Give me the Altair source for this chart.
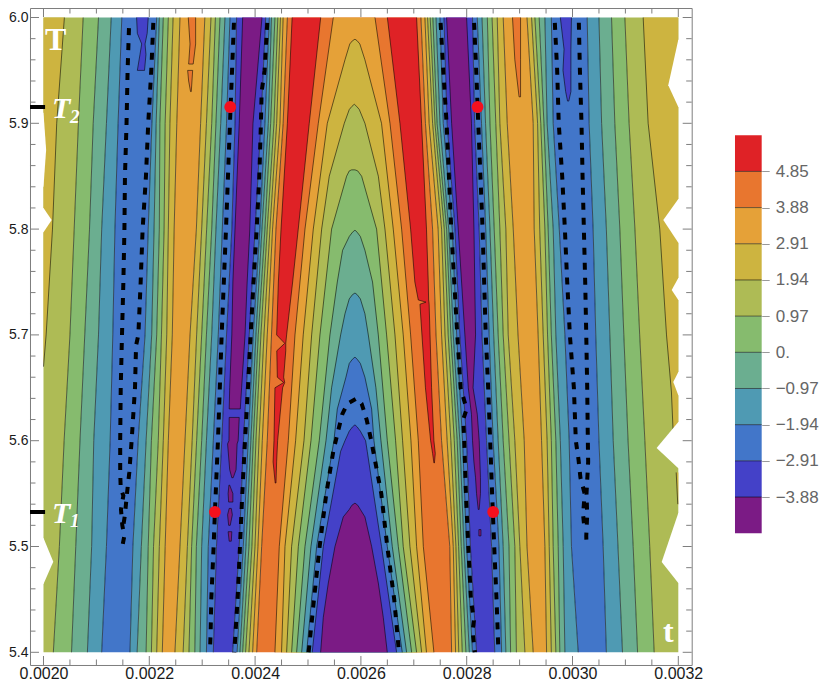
import altair as alt
import pandas as pd

# ---- values; t is in units of 1e-6 ----
ROW_T = [6.0, 5.9, 5.8, 5.7, 5.6, 5.5, 5.4]

EDGE_L = [2000] * 7
L2 = [2075, 2066, 2058, 2050, 2039, 2030, 2018.6]
L3 = [2104, 2094, 2087, 2078, 2069, 2061, 2053]
L4 = [2128, 2119, 2110, 2104, 2095, 2091, 2083]
L5 = [2148, 2141, 2135, 2131, 2126, 2119, 2110]
R5 = [2214, 2205, 2198, 2192, 2179, 2169, 2163.5]
R4 = [2219, 2213, 2209, 2204.5, 2194, 2185, 2177]
R3 = [2226.5, 2220, 2219, 2214, 2204, 2198, 2194]
R2 = [2236, 2230, 2228, 2223, 2217, 2208, 2204]
R1 = [2245, 2239, 2236, 2233, 2226.5, 2219, 2214]
R0 = [2258, 2252, 2247, 2243.5, 2236, 2230, 2224.6]
O1 = [2305, 2297, 2289, 2277, 2267.5, 2258, 2248.5]
A1 = [2316.6, 2308, 2299, 2289.5, 2281, 2272, 2264]
B1 = [2325, 2318, 2308.4, 2299, 2289.5, 2280, 2275]
C1 = [2333.6, 2326, 2318, 2308, 2299, 2289, 2286]
D1 = [2343, 2335, 2326, 2318, 2308, 2299, 2296]
E1 = [2352.5, 2346, 2338, 2330.4, 2321, 2311.5, 2308]
F1 = [2365, 2362, 2356, 2346, 2337, 2327, 2321]
H1 = [2420, 2411, 2400, 2389, 2378, 2370, 2357.5]
I1 = [2427, 2418.6, 2409, 2396.5, 2387, 2377.7, 2366]
J1 = [2431, 2425, 2413, 2401.6, 2392, 2382.7, 2371.4]
K1 = [2437.5, 2429.4, 2418.6, 2406, 2396.6, 2388.4, 2376.4]
M1 = [2443, 2435.7, 2423, 2411, 2401.6, 2394, 2382]
N1 = [2448, 2440.7, 2428, 2416.8, 2407.3, 2399.8, 2388.4]
P1 = [2453, 2447, 2433, 2423, 2413.6, 2405.4, 2395.3]
Q1 = [2461, 2453, 2439.4, 2431, 2423, 2412.4, 2403]
Q2 = [2713.5, 2722, 2735.5, 2742, 2752.5, 2768, 2771.5]
P2 = [2721, 2729, 2746, 2752.5, 2763, 2774.6, 2779]
N2 = [2726, 2735.5, 2752.5, 2759, 2770, 2779.6, 2785]
M2 = [2731, 2740, 2757.6, 2765, 2776.5, 2784.7, 2791.6]
K2 = [2736, 2744, 2762, 2770, 2782, 2789.7, 2798.5]
J2 = [2742, 2749.4, 2766, 2774.6, 2787, 2794.8, 2805]
I2 = [2749.4, 2755.7, 2772.7, 2781, 2792.2, 2799.8, 2811]
H2 = [2757, 2763, 2777.8, 2787, 2799.8, 2807, 2818.7]
H3 = [2811, 2815, 2823.6, 2829, 2837.5, 2847, 2853]
I3 = [2820, 2828, 2836, 2842.5, 2850, 2861, 2866]
J3 = [2829, 2835.6, 2844, 2851, 2859.5, 2869, 2874]
K3 = [2839, 2844, 2852, 2859.5, 2869, 2880, 2883]
M3 = [2848, 2855, 2862.7, 2869, 2880, 2891, 2894]
N3 = [2857.7, 2862.7, 2874, 2878.5, 2891, 2900.5, 2910]
P3 = [2869, 2876.6, 2888, 2897, 2908.7, 2914, 2925.7]
O3 = [2914, 2925.7, 2927.6, 2935, 2941.5, 2947.8, 2951]
A3 = [2922.6, 2934, 2938, 2944.6, 2952, 2956, 2960]
B3 = [2928.9, 2940, 2947.8, 2952.8, 2960, 2963.5, 2968.5]
C3 = [2937, 2946, 2954, 2960, 2968.5, 2973, 2976]
D3 = [2947.8, 2952, 2963.5, 2968.5, 2977, 2982.4, 2985.6]
E3 = [2960, 2963.5, 2975, 2985.6, 2993.7, 2998, 3010.8]
S1 = [3027.8, 3031.5, 3039, 3044, 3050, 3058, 3064]
S2 = [3050, 3055, 3064, 3070.6, 3077, 3086, 3094.5]
S3 = [3073.8, 3080, 3089.5, 3097, 3105, 3114.7, 3123]
S4 = [3099, 3107, 3118, 3127, 3136.8, 3146, 3154.4]
EDGE_R = [3200] * 7

RED, DKO, ORA, YEL = "#df2226", "#e8762f", "#e5a138", "#cdb440"
YGR, GRN, TEA, STE = "#aebb55", "#86bb6e", "#6bae90", "#4f9ab3"
BLU, IND, PUR = "#4276c9", "#4441c8", "#7b1b85"

STRIPE_LINES = [EDGE_L, L2, L3, L4, L5, R5, R4, R3, R2, R1, R0, O1, A1, B1, C1, D1, E1, F1,
                H1, I1, J1, K1, M1, N1, P1, Q1, Q2, P2, N2, M2, K2, J2, I2, H2,
                H3, I3, J3, K3, M3, N3, P3, O3, A3, B3, C3, D3, E3, S1, S2, S3, S4, EDGE_R]
STRIPE_COLORS = [YGR, GRN, TEA, STE, BLU, STE, TEA, GRN, YGR, YEL, ORA, YEL, YGR, GRN, TEA, STE, BLU,
                 IND, BLU, STE, TEA, GRN, YGR, YEL, ORA, DKO, ORA, YEL, YGR, GRN, TEA, STE, BLU,
                 IND, BLU, STE, TEA, GRN, YGR, YEL, ORA, YEL, YGR, GRN, TEA, STE, BLU, STE, TEA, GRN, YGR]

# overlays: T rows, left boundary, right boundary, colour, which end closes
YL_T = [6.0, 5.9, 5.8, 5.7, 5.67]
YL_A = [2000, 2000, 2000, 2000, 2000]
YL_B = [2039.5, 2025, 2017, 2005, 2000]
YR_T = [6.0, 5.9, 5.8, 5.7, 5.646, 5.611]
YR_A = [3133.6, 3143, 3165, 3177.7, 3187, 3190]
YR_B = [3200, 3200, 3200, 3200, 3200, 3200]
YS_T = [5.57, 5.54]
YS_A = [3196, 3199]
YS_B = [3200, 3200]

RL_T = [6.0, 5.9, 5.8, 5.75, 5.7, 5.692, 5.685, 5.66, 5.655, 5.65, 5.6, 5.58, 5.56]
RL_A = [2470, 2461, 2449, 2444, 2440.7, 2456, 2441, 2442, 2454, 2437.5, 2435.7, 2434, 2438]
RL_B = [2524, 2502.4, 2481.6, 2471, 2459.6, 2458, 2458, 2454, 2456, 2452, 2442.6, 2440.7, 2439.5]
RR_T = [6.0, 5.9, 5.8, 5.75, 5.733, 5.731, 5.729, 5.65, 5.6, 5.588, 5.579]
RR_A = [2650, 2673.8, 2694, 2702, 2708.5, 2723, 2711.6, 2722, 2731.8, 2735.5, 2738]
RR_B = [2705.3, 2714.7, 2724, 2727.3, 2728, 2728.6, 2729, 2733.6, 2738, 2740.6, 2739]

PL1_T = [6.0, 5.9, 5.8, 5.75, 5.7, 5.65, 5.63]
PL1_A = [2376.5, 2370, 2362, 2358, 2356, 2352, 2351]
PL1_B = [2413, 2396, 2390, 2385, 2381, 2374.5, 2372]
PL2_T = [5.622, 5.6, 5.597, 5.5725, 5.565]
PL2_A = [2351, 2350.6, 2348, 2352, 2356]
PL2_B = [2370, 2368, 2366, 2364, 2358.6]
PL3_T = [5.558, 5.55, 5.542]
PL3_A = [2350.5, 2349, 2350]
PL3_B = [2352, 2358, 2358]
PL4_T = [5.536, 5.53, 5.52]
PL4_A = [2351, 2348, 2350]
PL4_B = [2355, 2357, 2353]
PL5_T = [5.514, 5.505]
PL5_A = [2349, 2351]
PL5_B = [2356, 2355]
PR_T = [6.0, 5.9, 5.8, 5.7, 5.65, 5.625, 5.6, 5.58, 5.565, 5.55, 5.535]
PR_A = [2762, 2771.5, 2784, 2796.6, 2803, 2809, 2811, 2813.6, 2816.7, 2818.6, 2821.8]
PR_B = [2799.8, 2809, 2813.7, 2816.7, 2812, 2820, 2823.6, 2825, 2826, 2826, 2823.6]
PB_T = [5.516, 5.51]
PB_A = [2823, 2823]
PB_B = [2827, 2827]

IL_T = [6.0, 5.985, 5.975, 5.965, 5.95]
IL_A = [2176, 2177.4, 2185.6, 2182.4, 2177.4]
IL_B = [2198, 2196, 2192, 2193.7, 2191]
IR_T = [6.0, 5.97, 5.95, 5.93, 5.921]
IR_A = [2977, 2984, 2982, 2987, 2990.6]
IR_B = [2998, 2997, 2997, 2997, 2993]
OL1_T = [6.0, 5.975, 5.956]
OL1_A = [2273.7, 2277, 2274.4]
OL1_B = [2287.6, 2287.6, 2283]
OL2_T = [5.95, 5.94, 5.93]
OL2_A = [2272.5, 2274.4, 2278]
OL2_B = [2282, 2280.7, 2279.4]
OR_T = [6.0, 5.96, 5.94, 5.925]
OR_A = [2886.6, 2891, 2895.5, 2899]
OR_B = [2901.8, 2901.8, 2901.8, 2901.8]

# nested central arches, outermost first
AO_T = ROW_T
AO_A = [2547.8, 2519.5, 2494.3, 2475.4, 2462.8, 2445.7, 2437.5]
AO_B = [2626.6, 2655, 2677, 2694, 2708.5, 2718, 2738]
AY_T = [5.9795, 5.978, 5.975, 5.96, 5.9, 5.8, 5.7, 5.6, 5.5, 5.4]
AY_A = [2588.8, 2584, 2579, 2569.9, 2536.5, 2510, 2491, 2476.6, 2456.5, 2450]
AY_B = [2588.8, 2593, 2598, 2607.6, 2639, 2661.2, 2680, 2694.6, 2705.3, 2724]
AG_T = [5.918, 5.916, 5.913, 5.9, 5.85, 5.8, 5.7, 5.6, 5.5, 5.4]
AG_A = [2587.5, 2583, 2578, 2568.6, 2540.2, 2525.8, 2506.9, 2492.4, 2469, 2459.6]
AG_B = [2587.5, 2592, 2597, 2607.6, 2633, 2645.5, 2664.4, 2678.8, 2692.7, 2714.8]
AN_T = [5.856, 5.855, 5.85, 5.8, 5.7, 5.6, 5.5, 5.4]
AN_A = [2582.5, 2578, 2573, 2544.6, 2522.6, 2505.6, 2481.7, 2469]
AN_B = [2588.8, 2594, 2601.4, 2629.7, 2648.6, 2665.6, 2680, 2705.3]
AT_T = [5.799, 5.797, 5.793, 5.78, 5.75, 5.7, 5.6, 5.5, 5.4]
AT_A = [2588.8, 2584, 2578, 2565.4, 2555.4, 2541.5, 2521.3, 2494.3, 2478.5]
AT_B = [2588.8, 2593, 2599, 2607.6, 2622, 2632.9, 2649.9, 2670.7, 2695.9]
AS_T = [5.7396, 5.738, 5.734, 5.72, 5.7, 5.65, 5.6, 5.5, 5.4]
AS_A = [2588.8, 2584, 2578, 2569.9, 2561.7, 2544.6, 2534, 2505.6, 2488]
AS_B = [2588.8, 2593, 2599, 2607.6, 2614, 2628.4, 2637.9, 2659.3, 2686.4]
AB_T = [5.679, 5.677, 5.673, 5.66, 5.63, 5.6, 5.5, 5.4]
AB_A = [2588.8, 2584, 2578, 2571.7, 2555.4, 2549, 2516.3, 2497.4]
AB_B = [2588.8, 2593, 2599, 2607.6, 2620.3, 2624.7, 2649.9, 2678.2]
AI_T = [5.615, 5.613, 5.609, 5.6, 5.59, 5.5, 5.4]
AI_A = [2588.8, 2584, 2578, 2569.9, 2561.7, 2528.9, 2508]
AI_B = [2588.8, 2593, 2599, 2608.9, 2612, 2639, 2667.5]
AP_T = [5.541, 5.539, 5.535, 5.528, 5.5, 5.4655, 5.433, 5.4]
AP_A = [2588.8, 2583, 2578, 2566.7, 2551, 2538.4, 2528.9, 2523.9]
AP_B = [2588.8, 2594, 2599, 2607.6, 2620.3, 2632.9, 2642.3, 2649.9]

# dashed black curves
D1_T = [5.99, 5.95, 5.9, 5.85, 5.8, 5.75, 5.7, 5.65, 5.6, 5.57, 5.555, 5.548, 5.535, 5.52, 5.51, 5.5]
D1_t = [2161.6, 2159, 2157, 2154, 2153, 2151, 2148.4, 2146, 2145, 2145, 2146, 2151, 2146.5, 2149, 2152.8, 2149]
D2_T = [5.995, 5.95, 5.9, 5.85, 5.8, 5.75, 5.7, 5.69, 5.65, 5.6, 5.57, 5.55, 5.53, 5.52]
D2_t = [2207.6, 2203.8, 2198, 2193.7, 2187.4, 2183.7, 2179.3, 2175, 2173, 2166.6, 2162.2, 2157.8, 2154, 2151]
D3_T = [5.995, 5.9, 5.8, 5.7, 5.6, 5.532, 5.5, 5.45, 5.42, 5.4]
D3_t = [2360, 2352.5, 2345, 2336.8, 2329.8, 2324, 2321.6, 2317.2, 2316, 2314.7]
D4_T = [5.995, 5.95, 5.93, 5.9, 5.85, 5.8, 5.75, 5.7, 5.65, 5.6, 5.55, 5.5, 5.45, 5.42, 5.4]
D4_t = [2423, 2418, 2412.4, 2411, 2408, 2403, 2397, 2391.6, 2386.5, 2380.9, 2375.8, 2371.4, 2367, 2363.2, 2360.7]
D5_T = [5.4, 5.45, 5.5, 5.55, 5.59, 5.61, 5.625, 5.635, 5.64, 5.635, 5.62, 5.6, 5.55, 5.5, 5.45, 5.4]
D5_t = [2501.2, 2511.3, 2522, 2534.6, 2547.8, 2557.3, 2564.8, 2574.3, 2592, 2601.4, 2610.8, 2619.6, 2638.5, 2649.9, 2663, 2672]
D6_T = [5.995, 5.95, 5.9, 5.85, 5.8, 5.75, 5.7, 5.65, 5.63, 5.62, 5.6, 5.55, 5.5, 5.45, 5.43, 5.42, 5.4]
D6_t = [2750.7, 2755.7, 2762, 2766.4, 2770.8, 2776.5, 2782.2, 2788.5, 2799.8, 2793.5, 2795.4, 2798.5, 2803, 2808, 2813.7, 2811, 2815.5]
D7_T = [5.995, 5.95, 5.9, 5.85, 5.8, 5.75, 5.7, 5.65, 5.6, 5.55, 5.5, 5.45, 5.4]
D7_t = [2814, 2818, 2821.8, 2826, 2830, 2833, 2836, 2840.6, 2844.4, 2848, 2852, 2856.4, 2860]
D8_T = [5.995, 5.95, 5.9, 5.85, 5.8, 5.75, 5.7, 5.65, 5.6, 5.582, 5.565, 5.55, 5.53, 5.515]
D8_t = [2966.6, 2971, 2974, 2980.5, 2985.6, 2990, 2995, 3002.6, 3006.3, 3011.4, 3015, 3023, 3020, 3023]
D9_T = [5.995, 5.95, 5.9, 5.85, 5.8, 5.75, 5.7, 5.65, 5.6, 5.58, 5.55, 5.53, 5.51, 5.5]
D9_t = [3012, 3014, 3017, 3019, 3021.5, 3024, 3026, 3027.8, 3029, 3029.6, 3026.5, 3027.8, 3026, 3026.5]

DOT_t = [2324, 2353, 2820.5, 2850]
DOT_T = [5.5326, 5.9154, 5.9154, 5.5326]
MARK_T = [5.9154, 5.5326]

# white notches in the plotted region's edge
NOTCH_L = [([5.91, 5.875, 5.84], [2000, 2005, 2000]),
           ([5.82, 5.8085, 5.797], [2000, 2015.5, 2000]),
           ([5.508, 5.4856, 5.4646], [2000, 2018.5, 2000])]
NOTCH_R = [([5.979, 5.936, 5.9155], [3200, 3181, 3200]),
           ([5.8285, 5.8086, 5.787], [3200, 3171.6, 3200]),
           ([5.7538, 5.7424, 5.733], [3200, 3187.5, 3200]),
           ([5.665, 5.6555, 5.643], [3200, 3190.5, 3200]),
           ([5.6177, 5.593, 5.574], [3200, 3159, 3200]),
           ([5.5316, 5.4854, 5.4655], [3200, 3168.6, 3200])]

LABEL_TEXT = ["T", "t"]
LABEL_t = [2003, 3171]
LABEL_T = [5.969, 5.4098]
ITAL_TEXT = ["T", "T"]
ITAL_t = [2016, 2016]
ITAL_T = [5.905, 5.5222]
SUB_TEXT = ["2", "1"]
SUB_t = [2050, 2050]
SUB_T = [5.9003, 5.5184]

X_TICKS_MAJOR = [2000, 2200, 2400, 2600, 2800, 3000, 3200]
X_TICKS_MINOR = [2050, 2100, 2150, 2250, 2300, 2350, 2450, 2500, 2550, 2650, 2700, 2750,
                 2850, 2900, 2950, 3050, 3100, 3150]
Y_TICKS_MAJOR = [5.4, 5.5, 5.6, 5.7, 5.8, 5.9, 6.0]
Y_TICKS_MINOR = [5.42, 5.44, 5.46, 5.48, 5.52, 5.54, 5.56, 5.58, 5.62, 5.64, 5.66, 5.68,
                 5.72, 5.74, 5.76, 5.78, 5.82, 5.84, 5.86, 5.88, 5.92, 5.94, 5.96, 5.98]

BAR_EDGES = [5.82, 4.85, 3.88, 2.91, 1.94, 0.97, 0.0, -0.97, -1.94, -2.91, -3.88, -4.85]
BAR_COLORS = [RED, DKO, ORA, YEL, YGR, GRN, TEA, STE, BLU, IND, PUR]
BAR_TICKS = [4.85, 3.88, 2.91, 1.94, 0.97, 0.0, -0.97, -1.94, -2.91, -3.88]

# ---- chart ----
W, H = 661.7, 657
sx = alt.Scale(domain=[1974.5, 3225.3], nice=False, zero=False)
sy = alt.Scale(domain=[5.388, 6.00898], nice=False, zero=False)
ax_x = alt.Axis(values=X_TICKS_MAJOR, labelExpr="format(datum.value/1000000,'.4f')", title=None, grid=False,
                domain=False, ticks=False, labelFontSize=16, labelFont="Liberation Sans", labelColor="#1a1a1a",
                labelPadding=1, labelFlush=False, labelOverlap=False)
ax_y = alt.Axis(values=Y_TICKS_MAJOR, labelExpr="format(datum.value,'.1f')", title=None, grid=False,
                domain=False, ticks=False, labelFontSize=14, labelFont="Liberation Sans", labelColor="#1a1a1a",
                labelPadding=2, labelOverlap=False)
X = alt.X("a:Q", scale=sx, axis=ax_x)
Y = alt.Y("T:Q", scale=sy, axis=ax_y)
layers = []


def poly(ts, a, b, color):
    df = pd.DataFrame({"T": ts, "a": a, "b": b})
    layers.append(alt.Chart(df).mark_area(orient="horizontal", color=color, opacity=1, strokeWidth=0)
                  .encode(x=X, x2="b:Q", y=Y))


def line(ts, a, dash=False):
    df = pd.DataFrame({"T": ts, "a": a, "i": range(len(a))})
    if dash:
        m = alt.Chart(df).mark_line(color="black", strokeWidth=4, strokeDash=[7, 8], strokeCap="butt")
    else:
        m = alt.Chart(df).mark_line(color="#000000", opacity=0.55, strokeWidth=1)
    layers.append(m.encode(x=X, y=Y, order=alt.Order("i:Q")))


def outline(ts, a, b, close):
    if close == "top":
        line(list(ts)[::-1] + list(ts), list(a)[::-1] + list(b))
    elif close == "bottom":
        line(list(ts) + list(ts)[::-1], list(a) + list(b)[::-1])
    else:
        line(list(ts) + list(ts)[::-1] + [ts[0]], list(a) + list(b)[::-1] + [a[0]])


# stripes
for k, c in enumerate(STRIPE_COLORS):
    poly(ROW_T, STRIPE_LINES[k], STRIPE_LINES[k + 1], c)

OVERLAYS = [
    (YL_T, YL_A, YL_B, YEL, None), (YR_T, YR_A, YR_B, YEL, None), (YS_T, YS_A, YS_B, YEL, None),
    (RL_T, RL_A, RL_B, RED, "bottom"), (RR_T, RR_A, RR_B, RED, "bottom"),
    (PL1_T, PL1_A, PL1_B, PUR, "bottom"), (PL2_T, PL2_A, PL2_B, PUR, "both"), (PL3_T, PL3_A, PL3_B, PUR, "both"),
    (PL4_T, PL4_A, PL4_B, PUR, "both"), (PL5_T, PL5_A, PL5_B, PUR, "both"),
    (PR_T, PR_A, PR_B, PUR, "bottom"), (PB_T, PB_A, PB_B, PUR, "both"),
    (IL_T, IL_A, IL_B, IND, "bottom"), (IR_T, IR_A, IR_B, IND, "bottom"),
    (OL1_T, OL1_A, OL1_B, DKO, "bottom"), (OL2_T, OL2_A, OL2_B, DKO, "both"), (OR_T, OR_A, OR_B, DKO, "bottom"),
    (AO_T, AO_A, AO_B, ORA, None), (AY_T, AY_A, AY_B, YEL, "top"), (AG_T, AG_A, AG_B, YGR, "top"),
    (AN_T, AN_A, AN_B, GRN, "top"), (AT_T, AT_A, AT_B, TEA, "top"), (AS_T, AS_A, AS_B, STE, "top"),
    (AB_T, AB_A, AB_B, BLU, "top"), (AI_T, AI_A, AI_B, IND, "top"), (AP_T, AP_A, AP_B, PUR, "top"),
]
for ts, a, b, c, close in OVERLAYS:
    poly(ts, a, b, c)

# contour lines
for k in range(1, len(STRIPE_LINES) - 1):
    line(ROW_T, STRIPE_LINES[k])
line(YL_T, YL_B)
line(YR_T, YR_A)
line(YS_T, YS_A)
line(AO_T, AO_A)
line(AO_T, AO_B)
for ts, a, b, c, close in OVERLAYS:
    if close:
        outline(ts, a, b, close)

# white edge notches
for ts, e in NOTCH_L:
    poly(ts, [2000 - 2] * 3, e, "#ffffff")
for ts, e in NOTCH_R:
    poly(ts, e, [3200 + 2] * 3, "#ffffff")

# dashed curves
for ts, a in [(D1_T, D1_t), (D2_T, D2_t), (D3_T, D3_t), (D4_T, D4_t), (D5_T, D5_t),
              (D6_T, D6_t), (D7_T, D7_t), (D8_T, D8_t), (D9_T, D9_t)]:
    line(ts, a, dash=True)

# red dots
layers.append(alt.Chart(pd.DataFrame({"a": DOT_t, "T": DOT_T})).mark_circle(size=140, color="#f5101e", opacity=1)
              .encode(x=X, y=Y))

# black marks on the left frame
layers.append(alt.Chart(pd.DataFrame({"T": MARK_T, "a": [1974.5, 1974.5], "b": [2003, 2003]}))
              .mark_rule(color="black", strokeWidth=4).encode(x=X, x2="b:Q", y=Y))

# frame ticks
for vals, n in [(X_TICKS_MAJOR, 9), (X_TICKS_MINOR, 5.5)]:
    d = alt.Chart(pd.DataFrame({"a": vals}))
    layers.append(d.mark_rule(color="#7d7d7d", strokeWidth=1).encode(x=X, y=alt.value(H), y2=alt.value(H - n)))
    layers.append(d.mark_rule(color="#7d7d7d", strokeWidth=1).encode(x=X, y=alt.value(0), y2=alt.value(n)))
for vals, n in [(Y_TICKS_MAJOR, 9), (Y_TICKS_MINOR, 5.5)]:
    d = alt.Chart(pd.DataFrame({"T": vals}))
    layers.append(d.mark_rule(color="#7d7d7d", strokeWidth=1).encode(y=Y, x=alt.value(0), x2=alt.value(n)))
    layers.append(d.mark_rule(color="#7d7d7d", strokeWidth=1).encode(y=Y, x=alt.value(W), x2=alt.value(W - n)))

# white labels
for txt, ts, tt, size, ital in [(LABEL_TEXT, LABEL_t, LABEL_T, 32, "normal"),
                                (ITAL_TEXT, ITAL_t, ITAL_T, 30, "italic"),
                                (SUB_TEXT, SUB_t, SUB_T, 19, "italic")]:
    layers.append(alt.Chart(pd.DataFrame({"s": txt, "a": ts, "T": tt})).mark_text(
        color="white", font="Liberation Serif", fontSize=size, fontWeight="bold", fontStyle=ital,
        align="left", baseline="alphabetic").encode(x=X, y=Y, text="s:N"))

main = alt.layer(*layers)

# colour bar, on its own vertical scale
BX0, BX1 = W + 43.3, W + 70
bar_df = pd.DataFrame({"hi": BAR_EDGES[:-1], "lo": BAR_EDGES[1:], "c": BAR_COLORS})
sv = alt.Scale(domain=[-8.383, 9.231], nice=False, zero=False)
bar_axis = alt.Axis(values=BAR_TICKS, orient="right", offset=70, title=None, grid=False, domain=False, tickSize=7.5,
                    tickColor="#999999", labelFontSize=17, labelFont="Liberation Sans", labelColor="#666666",
                    labelPadding=6, labelOverlap=False, labelFlush=False,
                    labelExpr="datum.value==0?'0.':replace(format(datum.value,'.2f'),'-','\u2212')")
bar = alt.Chart(bar_df).mark_rect(strokeWidth=0).encode(
    x=alt.value(BX0), x2=alt.value(BX1),
    y=alt.Y("hi:Q", scale=sv, axis=bar_axis), y2="lo:Q",
    color=alt.Color("c:N", scale=None))
bar_lines = alt.Chart(pd.DataFrame({"v": BAR_TICKS})).mark_rule(color="black", opacity=0.55, strokeWidth=1).encode(
    y=alt.Y("v:Q", scale=sv, axis=bar_axis), x=alt.value(BX0), x2=alt.value(BX1))
legend = alt.layer(bar, bar_lines)

chart = alt.layer(main, legend).resolve_scale(y="independent").resolve_axis(y="independent").properties(
    width=W, height=H, view=alt.ViewBackground(stroke="#7d7d7d"),
    autosize=alt.AutoSizeParams(type="none"),
    padding={"left": 22, "top": 0, "right": 130, "bottom": 17}).configure(background="white")
chart.save("out.html", embed_options={"renderer": "svg", "actions": False})
